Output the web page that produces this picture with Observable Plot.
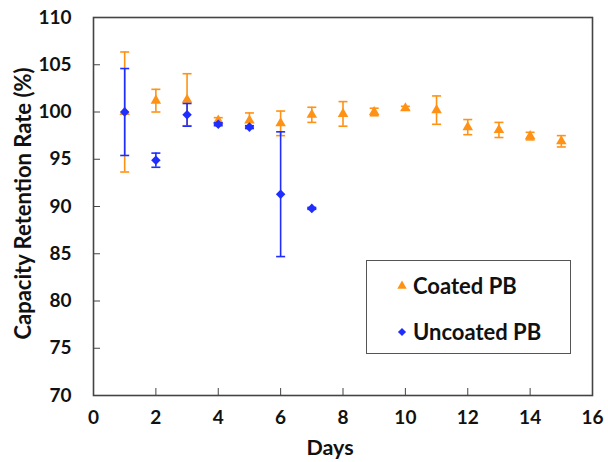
<!DOCTYPE html>
<html>
<head>
<meta charset="utf-8">
<script src="https://cdn.jsdelivr.net/npm/d3@7"></script>
<script src="https://cdn.jsdelivr.net/npm/@observablehq/plot@0.6"></script>
<style>
  html, body { margin: 0; padding: 0; background: #fff; }
  #wrap { position: relative; width: 608px; height: 462px; font-family: Lato, "Open Sans", sans-serif; }
  #legend { position: absolute; left: 366px; top: 260px; width: 203px; height: 92px; border: 1.5px solid #555; background: #fff; box-sizing: content-box; }
  .item { position: absolute; left: 29px; height: 26px; font-weight: 700; font-size: 22px; line-height: 26px; color: #111; display: flex; align-items: center; }
  .item svg { margin-right: 5px; }
</style>
</head>
<body>
<div id="wrap"></div>
<script>
// ---- data ----
const coatedDays = [1, 2, 3, 4, 5, 6, 7, 8, 9, 10, 11, 12, 13, 14, 15];
const coatedMean = [100.0, 101.2, 101.3, 99.1, 99.1, 98.8, 99.7, 99.8, 100.0, 100.4, 100.2, 98.4, 98.1, 97.45, 96.9];
const coatedErr  = [6.35, 1.2, 2.75, 0.3, 0.8, 1.3, 0.8, 1.3, 0.4, 0.2, 1.5, 0.8, 0.8, 0.4, 0.6];

const uncoatedDays = [1, 2, 3, 4, 5, 6, 7];
const uncoatedMean = [100.0, 94.9, 99.7, 98.7, 98.4, 91.3, 89.8];
const uncoatedErr  = [4.6, 0.75, 1.2, 0.15, 0.15, 6.6, 0.1];

const xTicks = [0, 2, 4, 6, 8, 10, 12, 14, 16];
const yTicks = [70, 75, 80, 85, 90, 95, 100, 105, 110];
const seriesNames = ["Coated PB", "Uncoated PB"];
const xLabel = "Days";
const yLabel = "Capacity Retention Rate (%)";

const orange = "#ff9214";
const blue = "#1f2dff";

const coated = coatedDays.map((d, i) => ({day: d, v: coatedMean[i], lo: coatedMean[i] - coatedErr[i], hi: coatedMean[i] + coatedErr[i]}));
const uncoated = uncoatedDays.map((d, i) => ({day: d, v: uncoatedMean[i], lo: uncoatedMean[i] - uncoatedErr[i], hi: uncoatedMean[i] + uncoatedErr[i]}));

const cap = { draw(ctx, size) { const r = Math.sqrt(size / Math.PI); ctx.moveTo(-r, 0); ctx.lineTo(r, 0); } };

function series(data, color, symbol, r) {
  return [
    Plot.ruleX(data, {x: "day", y1: "lo", y2: "hi", stroke: color, strokeWidth: 1.6}),
    Plot.dot(data, {x: "day", y: "hi", symbol: cap, r: 4.5, stroke: color, strokeWidth: 1.6, fill: "none"}),
    Plot.dot(data, {x: "day", y: "lo", symbol: cap, r: 4.5, stroke: color, strokeWidth: 1.6, fill: "none"}),
    Plot.dot(data, {x: "day", y: "v", symbol, r, fill: color, stroke: "none"})
  ];
}

const chart = Plot.plot({
  width: 608,
  height: 462,
  marginLeft: 93,
  marginRight: 16,
  marginTop: 17,
  marginBottom: 67,
  style: {fontFamily: "Lato, 'Open Sans', sans-serif", fontSize: "19px", fontWeight: 700, color: "#111", background: "#fff"},
  x: {domain: [0, 16]},
  y: {domain: [70, 110]},
  marks: [
    Plot.axisX({ticks: xTicks, tickSize: -7, tickPadding: 22, tickFormat: d => d, label: null, stroke: "#444"}),
    Plot.axisY({ticks: yTicks, tickSize: -7, tickPadding: 29, tickFormat: d => d, label: null, stroke: "#444"}),
    Plot.text([xLabel], {text: d => d, frameAnchor: "bottom", textAnchor: "middle", lineAnchor: "middle", dy: 53, dx: -13, fontSize: 21.5, fontWeight: 700, fill: "#111"}),
    Plot.text([yLabel], {text: d => d, frameAnchor: "left", textAnchor: "middle", lineAnchor: "middle", rotate: -90, dx: -70, dy: -3, fontSize: 22, fontWeight: 700, fill: "#111"}),
    ...series(coated, orange, "triangle", 3.9),
    ...series(uncoated, blue, "diamond2", 4.3),
    Plot.frame({stroke: "#444", strokeWidth: 1.6})
  ]
});
const wrap = document.getElementById("wrap");
wrap.appendChild(chart);

// legend (overlay, inside plot area as in reference)
const legend = document.createElement("div");
legend.id = "legend";
const syms = [[d3.symbolTriangle, orange, 38], [d3.symbolDiamond2, blue, 42]];
seriesNames.forEach((name, i) => {
  const item = document.createElement("div");
  item.className = "item";
  item.style.top = (i === 0 ? 12 : 58) + "px";
  const s = d3.create("svg").attr("width", 12).attr("height", 12);
  s.append("path").attr("transform", "translate(6,6)").attr("d", d3.symbol(syms[i][0], syms[i][2])()).attr("fill", syms[i][1]);
  item.appendChild(s.node());
  item.appendChild(document.createTextNode(name));
  legend.appendChild(item);
});
wrap.appendChild(legend);
</script>
</body>
</html>
